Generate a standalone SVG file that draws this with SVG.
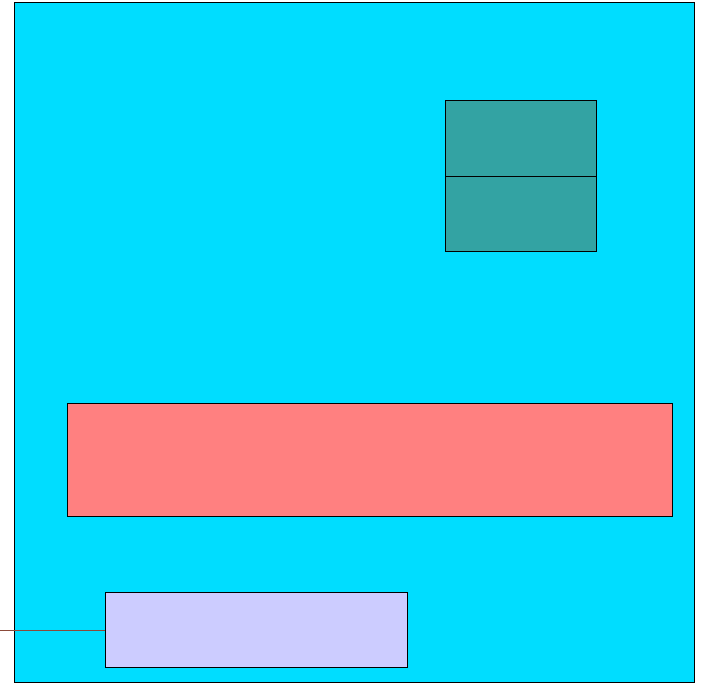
<svg xmlns="http://www.w3.org/2000/svg" width="705" height="684" viewBox="0 0 705 684">
<style>
.n{stroke:#000;stroke-width:1}
</style>
<rect width="705" height="684" fill="#fff"/>
<g id="outer"><rect class="n" x="14.5" y="2.5" width="680" height="680" fill="#00DDFF"/></g>
<g id="teal-top"><rect class="n" x="445.5" y="100.5" width="151" height="76" fill="#33A3A3"/></g>
<g id="teal-bottom"><rect class="n" x="445.5" y="176.5" width="151" height="75" fill="#33A3A3"/></g>
<g id="red"><rect class="n" x="67.5" y="403.5" width="605" height="113" fill="#FF8080"/></g>
<g id="lavender"><rect class="n" x="105.5" y="592.5" width="302" height="75" fill="#CCCCFF"/></g>
<g id="connectors"><line x1="0" y1="630.5" x2="105" y2="630.5" stroke="#8B4A3A" stroke-width="1"/></g>
</svg>
